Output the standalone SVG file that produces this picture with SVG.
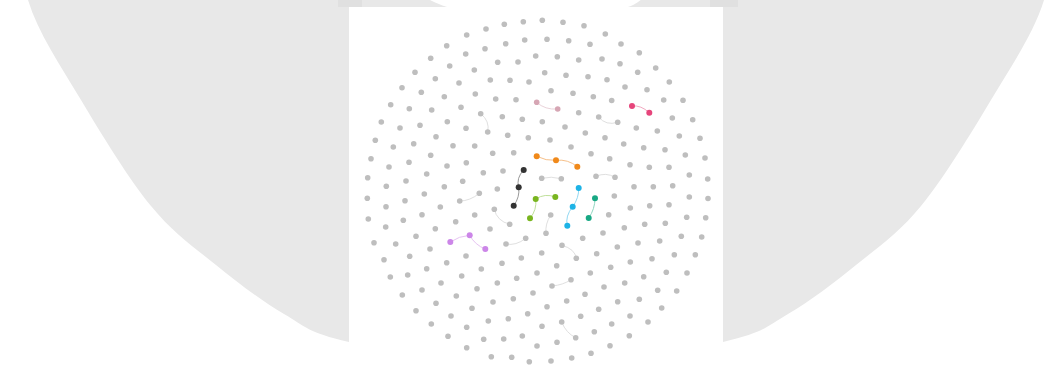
<svg xmlns="http://www.w3.org/2000/svg" width="1060" height="367" viewBox="0 0 1060 367">
<style>
.bgshape{fill:#e8e8e8}
.panel{fill:#ffffff}
.nodes circle{fill:#bebebe}
.nodes .o{fill:#f0891a}.nodes .k{fill:#333333}.nodes .g{fill:#79b51f}.nodes .c{fill:#1db3e6}.nodes .t{fill:#18a884}.nodes .p{fill:#e6457b}.nodes .lp{fill:#d6a6b4}.nodes .v{fill:#cc86e8}
.edges path{fill:none;stroke-width:1}
.e{stroke:#e0e0e0}
.eo{stroke:#f6c08a}.ek{stroke:#9a9a9a}.eg{stroke:#bfe09a}.ec{stroke:#92d8f2}.et{stroke:#8fd6c0}.ep{stroke:#f2a8c0}.elp{stroke:#ead3da}.ev{stroke:#e6c3f2}
</style>
<path class="bgshape" d="M26,-5 L28,0 C38.2,33.3 60.5,65.7 81,100 C101.5,134.3 128.5,178.5 151,206 C173.5,233.5 193.8,247 216,265 C238.2,283 261.8,301.2 284,314 C306.2,326.8 307,332.3 349,342 C391,351.7 473.7,372 536,372 C598.3,372 681,351.7 723,342 C765,332.3 765.8,326.8 788,314 C810.2,301.2 833.8,283 856,265 C878.2,247 898.5,233.5 921,206 C943.5,178.5 970.5,134.3 991,100 C1011.5,65.7 1033.8,33.3 1044,0 L1046,-5 Z"/>
<rect x="338" y="0" width="24" height="7" fill="#e0e0e0"/>
<rect x="710" y="0" width="28" height="7" fill="#e0e0e0"/>
<path fill="#ffffff" d="M428,-1 L642,-1 C637,3 632,6 628,7 L447,7 C440,5 434,2 428,-1 Z"/>
<rect class="panel" x="349" y="7" width="374" height="360"/>
<g id="connectors" class="edges">
<path class="e" d="M480.7,113.7 Q490,121 487.7,132"/>
<path class="e" d="M598.7,117 Q606,126 617.7,122.3"/>
<path class="e" d="M541.7,178.3 Q551,176 561.3,178.7"/>
<path class="e" d="M596,176.3 Q606,172 615,177.3"/>
<path class="e" d="M459.7,201 Q470,201 479.3,193.3"/>
<path class="e" d="M494.3,209.3 Q497,221 509.7,224.3"/>
<path class="e" d="M506,244 Q516,246 525.7,238.3"/>
<path class="e" d="M562,245.3 Q575,249 576.3,258.3"/>
<path class="e" d="M552,286 Q563,285 571,279.7"/>
<path class="e" d="M561.7,322 Q566,333 575.7,337.7"/>
<path class="e" d="M550.7,215 Q545,224 546,233.3"/>
<path class="eo" d="M536.7,156.3 Q546,161 556,160.3"/>
<path class="eo" d="M556,160.3 Q568,159 577.3,166.7"/>
<path class="ek" d="M523.7,170 Q516,178 518.7,187.3"/>
<path class="ek" d="M518.7,187.3 Q520,197 513.7,205.7"/>
<path class="eg" d="M535.7,199 Q545,193 555.3,197"/>
<path class="eg" d="M535.7,199 Q537,210 530,218.3"/>
<path class="ec" d="M578.7,188 Q579,198 572.7,206.7"/>
<path class="ec" d="M572.7,206.7 Q565,216 567.3,225.7"/>
<path class="et" d="M595,198.3 Q595,209 588.7,218"/>
<path class="ep" d="M632,106 Q641,105 649.3,112.7"/>
<path class="elp" d="M536.7,102.3 Q545,110 557.7,109"/>
<path class="ev" d="M450.3,242 Q459,236 469.7,235.3"/>
<path class="ev" d="M469.7,235.3 Q475,245 485.3,249"/>
</g>
<g class="nodes">
<g id="n1"><circle cx="523.3" cy="21.7" r="2.8"/></g>
<g id="n2"><circle cx="504.3" cy="24.3" r="2.8"/></g>
<g id="n3"><circle cx="486" cy="29" r="2.8"/></g>
<g id="n4"><circle cx="466.7" cy="35" r="2.8"/></g>
<g id="n5"><circle cx="524.7" cy="40" r="2.8"/></g>
<g id="n6"><circle cx="505.7" cy="43.7" r="2.8"/></g>
<g id="n7"><circle cx="485" cy="48.7" r="2.8"/></g>
<g id="n8"><circle cx="446.7" cy="45.7" r="2.8"/></g>
<g id="n9"><circle cx="465.7" cy="54" r="2.8"/></g>
<g id="n10"><circle cx="535.7" cy="56" r="2.8"/></g>
<g id="n11"><circle cx="430.7" cy="58.3" r="2.8"/></g>
<g id="n12"><circle cx="497.7" cy="62.3" r="2.8"/></g>
<g id="n13"><circle cx="518" cy="62" r="2.8"/></g>
<g id="n14"><circle cx="449.7" cy="66" r="2.8"/></g>
<g id="n15"><circle cx="474.3" cy="70" r="2.8"/></g>
<g id="n16"><circle cx="415" cy="72.3" r="2.8"/></g>
<g id="n17"><circle cx="435.3" cy="78.7" r="2.8"/></g>
<g id="n18"><circle cx="490.3" cy="80" r="2.8"/></g>
<g id="n19"><circle cx="510" cy="80.3" r="2.8"/></g>
<g id="n20"><circle cx="529" cy="82" r="2.8"/></g>
<g id="n21"><circle cx="459" cy="83" r="2.8"/></g>
<g id="n22"><circle cx="402" cy="87.7" r="2.8"/></g>
<g id="n23"><circle cx="421.3" cy="92.3" r="2.8"/></g>
<g id="n24"><circle cx="444.3" cy="96.7" r="2.8"/></g>
<g id="n25"><circle cx="475.3" cy="94" r="2.8"/></g>
<g id="n26"><circle cx="495.7" cy="99" r="2.8"/></g>
<g id="n27"><circle cx="516" cy="99.7" r="2.8"/></g>
<g id="n28"><circle cx="390.7" cy="104.7" r="2.8"/></g>
<g id="n29"><circle cx="409.3" cy="108.7" r="2.8"/></g>
<g id="n30"><circle cx="431.7" cy="110" r="2.8"/></g>
<g id="n31"><circle cx="461" cy="107.3" r="2.8"/></g>
<g id="n32"><circle cx="480.7" cy="113.7" r="2.8"/></g>
<g id="n33"><circle cx="502.3" cy="116.7" r="2.8"/></g>
<g id="n34"><circle cx="522.3" cy="119.3" r="2.8"/></g>
<g id="n35"><circle cx="381.3" cy="122" r="2.8"/></g>
<g id="n36"><circle cx="400" cy="128" r="2.8"/></g>
<g id="n37"><circle cx="420" cy="125.3" r="2.8"/></g>
<g id="n38"><circle cx="447.3" cy="121.7" r="2.8"/></g>
<g id="n39"><circle cx="466" cy="128.3" r="2.8"/></g>
<g id="n40"><circle cx="487.7" cy="132" r="2.8"/></g>
<g id="n41"><circle cx="507.7" cy="135.3" r="2.8"/></g>
<g id="n42"><circle cx="528.3" cy="137.7" r="2.8"/></g>
<g id="n43"><circle cx="375.3" cy="140.3" r="2.8"/></g>
<g id="n44"><circle cx="393.3" cy="147" r="2.8"/></g>
<g id="n45"><circle cx="413.7" cy="143.7" r="2.8"/></g>
<g id="n46"><circle cx="436" cy="136.7" r="2.8"/></g>
<g id="n47"><circle cx="453" cy="145.7" r="2.8"/></g>
<g id="n48"><circle cx="474.7" cy="146" r="2.8"/></g>
<g id="n49"><circle cx="492.7" cy="153.3" r="2.8"/></g>
<g id="n50"><circle cx="513.7" cy="152.7" r="2.8"/></g>
<g id="n51"><circle cx="371" cy="158.7" r="2.8"/></g>
<g id="n52"><circle cx="389" cy="167" r="2.8"/></g>
<g id="n53"><circle cx="409" cy="162.3" r="2.8"/></g>
<g id="n54"><circle cx="430.7" cy="155.3" r="2.8"/></g>
<g id="n55"><circle cx="447" cy="166" r="2.8"/></g>
<g id="n56"><circle cx="466.3" cy="162.7" r="2.8"/></g>
<g id="n57"><circle cx="483.3" cy="172.7" r="2.8"/></g>
<g id="n58"><circle cx="503" cy="171" r="2.8"/></g>
<g id="n59"><circle cx="367.7" cy="177.7" r="2.8"/></g>
<g id="n60"><circle cx="386.3" cy="186.3" r="2.8"/></g>
<g id="n61"><circle cx="406" cy="181" r="2.8"/></g>
<g id="n62"><circle cx="426.7" cy="174" r="2.8"/></g>
<g id="n63"><circle cx="444.3" cy="186.7" r="2.8"/></g>
<g id="n64"><circle cx="462.7" cy="181.3" r="2.8"/></g>
<g id="n65"><circle cx="497.3" cy="189" r="2.8"/></g>
<g id="n66"><circle cx="542.3" cy="20.3" r="2.8"/></g>
<g id="n67"><circle cx="563" cy="22.3" r="2.8"/></g>
<g id="n68"><circle cx="584" cy="25.7" r="2.8"/></g>
<g id="n69"><circle cx="605.3" cy="34" r="2.8"/></g>
<g id="n70"><circle cx="547" cy="39.3" r="2.8"/></g>
<g id="n71"><circle cx="568.7" cy="40.7" r="2.8"/></g>
<g id="n72"><circle cx="590" cy="44.3" r="2.8"/></g>
<g id="n73"><circle cx="621" cy="44" r="2.8"/></g>
<g id="n74"><circle cx="557.3" cy="56.7" r="2.8"/></g>
<g id="n75"><circle cx="578.7" cy="60" r="2.8"/></g>
<g id="n76"><circle cx="602" cy="59" r="2.8"/></g>
<g id="n77"><circle cx="620" cy="63.7" r="2.8"/></g>
<g id="n78"><circle cx="639.3" cy="52.7" r="2.8"/></g>
<g id="n79"><circle cx="655.7" cy="68" r="2.8"/></g>
<g id="n80"><circle cx="544.7" cy="72.7" r="2.8"/></g>
<g id="n81"><circle cx="566" cy="75.3" r="2.8"/></g>
<g id="n82"><circle cx="588" cy="76.7" r="2.8"/></g>
<g id="n83"><circle cx="607" cy="79.7" r="2.8"/></g>
<g id="n84"><circle cx="637.7" cy="72.3" r="2.8"/></g>
<g id="n85"><circle cx="669.3" cy="82" r="2.8"/></g>
<g id="n86"><circle cx="551" cy="90.7" r="2.8"/></g>
<g id="n87"><circle cx="573" cy="93.3" r="2.8"/></g>
<g id="n88"><circle cx="593.3" cy="96.7" r="2.8"/></g>
<g id="n89"><circle cx="611.7" cy="100.5" r="2.8"/></g>
<g id="n90"><circle cx="625" cy="87" r="2.8"/></g>
<g id="n91"><circle cx="647" cy="89.7" r="2.8"/></g>
<g id="n92"><circle cx="663.7" cy="100" r="2.8"/></g>
<g id="n93"><circle cx="683" cy="100.3" r="2.8"/></g>
<g id="n94"><circle cx="578.7" cy="112.7" r="2.8"/></g>
<g id="n95"><circle cx="598.7" cy="117" r="2.8"/></g>
<g id="n96"><circle cx="617.7" cy="122.3" r="2.8"/></g>
<g id="n97"><circle cx="672.3" cy="118" r="2.8"/></g>
<g id="n98"><circle cx="692.7" cy="119.7" r="2.8"/></g>
<g id="n99"><circle cx="542.3" cy="121.7" r="2.8"/></g>
<g id="n100"><circle cx="565" cy="127" r="2.8"/></g>
<g id="n101"><circle cx="585.3" cy="133" r="2.8"/></g>
<g id="n102"><circle cx="605" cy="137.7" r="2.8"/></g>
<g id="n103"><circle cx="636.3" cy="128" r="2.8"/></g>
<g id="n104"><circle cx="657.3" cy="131" r="2.8"/></g>
<g id="n105"><circle cx="679.3" cy="136" r="2.8"/></g>
<g id="n106"><circle cx="700" cy="138.3" r="2.8"/></g>
<g id="n107"><circle cx="550" cy="140" r="2.8"/></g>
<g id="n108"><circle cx="571" cy="147" r="2.8"/></g>
<g id="n109"><circle cx="591" cy="153.7" r="2.8"/></g>
<g id="n110"><circle cx="623.7" cy="144" r="2.8"/></g>
<g id="n111"><circle cx="643.7" cy="147.7" r="2.8"/></g>
<g id="n112"><circle cx="665" cy="149.7" r="2.8"/></g>
<g id="n113"><circle cx="685.3" cy="155" r="2.8"/></g>
<g id="n114"><circle cx="705" cy="158" r="2.8"/></g>
<g id="n115"><circle cx="609.7" cy="158.7" r="2.8"/></g>
<g id="n116"><circle cx="630" cy="164.7" r="2.8"/></g>
<g id="n117"><circle cx="649.3" cy="167.3" r="2.8"/></g>
<g id="n118"><circle cx="669" cy="167.3" r="2.8"/></g>
<g id="n119"><circle cx="689.3" cy="175" r="2.8"/></g>
<g id="n120"><circle cx="707.7" cy="179" r="2.8"/></g>
<g id="n121"><circle cx="541.7" cy="178.3" r="2.8"/></g>
<g id="n122"><circle cx="561.3" cy="178.7" r="2.8"/></g>
<g id="n123"><circle cx="596" cy="176.3" r="2.8"/></g>
<g id="n124"><circle cx="615" cy="177.3" r="2.8"/></g>
<g id="n125"><circle cx="634" cy="186.7" r="2.8"/></g>
<g id="n126"><circle cx="653.3" cy="186.7" r="2.8"/></g>
<g id="n127"><circle cx="672.7" cy="185.7" r="2.8"/></g>
<g id="n128"><circle cx="424.3" cy="194" r="2.8"/></g>
<g id="n129"><circle cx="405" cy="200.7" r="2.8"/></g>
<g id="n130"><circle cx="367.3" cy="198.3" r="2.8"/></g>
<g id="n131"><circle cx="386" cy="206.7" r="2.8"/></g>
<g id="n132"><circle cx="440.3" cy="207" r="2.8"/></g>
<g id="n133"><circle cx="459.7" cy="201" r="2.8"/></g>
<g id="n134"><circle cx="479.3" cy="193.3" r="2.8"/></g>
<g id="n135"><circle cx="494.3" cy="209.3" r="2.8"/></g>
<g id="n136"><circle cx="474.7" cy="215" r="2.8"/></g>
<g id="n137"><circle cx="455.7" cy="221.7" r="2.8"/></g>
<g id="n138"><circle cx="422" cy="214.7" r="2.8"/></g>
<g id="n139"><circle cx="403.3" cy="220.3" r="2.8"/></g>
<g id="n140"><circle cx="368.3" cy="219" r="2.8"/></g>
<g id="n141"><circle cx="385.7" cy="227" r="2.8"/></g>
<g id="n142"><circle cx="416" cy="236.3" r="2.8"/></g>
<g id="n143"><circle cx="435.3" cy="228.7" r="2.8"/></g>
<g id="n144"><circle cx="490" cy="229" r="2.8"/></g>
<g id="n145"><circle cx="509.7" cy="224.3" r="2.8"/></g>
<g id="n146"><circle cx="525.7" cy="238.3" r="2.8"/></g>
<g id="n147"><circle cx="506" cy="244" r="2.8"/></g>
<g id="n148"><circle cx="374" cy="242.7" r="2.8"/></g>
<g id="n149"><circle cx="395.7" cy="244" r="2.8"/></g>
<g id="n150"><circle cx="430" cy="249" r="2.8"/></g>
<g id="n151"><circle cx="409.7" cy="256.3" r="2.8"/></g>
<g id="n152"><circle cx="384" cy="259.7" r="2.8"/></g>
<g id="n153"><circle cx="466" cy="256" r="2.8"/></g>
<g id="n154"><circle cx="446.7" cy="262.7" r="2.8"/></g>
<g id="n155"><circle cx="426.7" cy="268.7" r="2.8"/></g>
<g id="n156"><circle cx="390.3" cy="277" r="2.8"/></g>
<g id="n157"><circle cx="407.7" cy="275" r="2.8"/></g>
<g id="n158"><circle cx="461.7" cy="276" r="2.8"/></g>
<g id="n159"><circle cx="481.3" cy="269" r="2.8"/></g>
<g id="n160"><circle cx="502" cy="263.3" r="2.8"/></g>
<g id="n161"><circle cx="521.3" cy="258" r="2.8"/></g>
<g id="n162"><circle cx="537" cy="273" r="2.8"/></g>
<g id="n163"><circle cx="516.7" cy="278.3" r="2.8"/></g>
<g id="n164"><circle cx="497.3" cy="283" r="2.8"/></g>
<g id="n165"><circle cx="477" cy="288.7" r="2.8"/></g>
<g id="n166"><circle cx="441" cy="283" r="2.8"/></g>
<g id="n167"><circle cx="422" cy="290" r="2.8"/></g>
<g id="n168"><circle cx="402.3" cy="295" r="2.8"/></g>
<g id="n169"><circle cx="456.3" cy="296" r="2.8"/></g>
<g id="n170"><circle cx="436" cy="303.3" r="2.8"/></g>
<g id="n171"><circle cx="416" cy="310.7" r="2.8"/></g>
<g id="n172"><circle cx="493" cy="302" r="2.8"/></g>
<g id="n173"><circle cx="513.3" cy="298.7" r="2.8"/></g>
<g id="n174"><circle cx="533" cy="293" r="2.8"/></g>
<g id="n175"><circle cx="527.7" cy="313.7" r="2.8"/></g>
<g id="n176"><circle cx="508.3" cy="318.7" r="2.8"/></g>
<g id="n177"><circle cx="488.3" cy="321" r="2.8"/></g>
<g id="n178"><circle cx="472" cy="308.3" r="2.8"/></g>
<g id="n179"><circle cx="451" cy="316" r="2.8"/></g>
<g id="n180"><circle cx="431.3" cy="324" r="2.8"/></g>
<g id="n181"><circle cx="466.7" cy="327.3" r="2.8"/></g>
<g id="n182"><circle cx="448" cy="336.3" r="2.8"/></g>
<g id="n183"><circle cx="483.7" cy="339.3" r="2.8"/></g>
<g id="n184"><circle cx="503.7" cy="339" r="2.8"/></g>
<g id="n185"><circle cx="522.3" cy="336" r="2.8"/></g>
<g id="n186"><circle cx="537" cy="346" r="2.8"/></g>
<g id="n187"><circle cx="511.7" cy="357.3" r="2.8"/></g>
<g id="n188"><circle cx="491.3" cy="356.7" r="2.8"/></g>
<g id="n189"><circle cx="466.7" cy="347.7" r="2.8"/></g>
<g id="n190"><circle cx="529.3" cy="361.7" r="2.8"/></g>
<g id="n191"><circle cx="614.3" cy="196" r="2.8"/></g>
<g id="n192"><circle cx="630.3" cy="208" r="2.8"/></g>
<g id="n193"><circle cx="649.7" cy="205.7" r="2.8"/></g>
<g id="n194"><circle cx="669" cy="204.7" r="2.8"/></g>
<g id="n195"><circle cx="689.3" cy="197" r="2.8"/></g>
<g id="n196"><circle cx="708" cy="198.5" r="2.8"/></g>
<g id="n197"><circle cx="608.7" cy="214.7" r="2.8"/></g>
<g id="n198"><circle cx="603" cy="233" r="2.8"/></g>
<g id="n199"><circle cx="624.3" cy="227.7" r="2.8"/></g>
<g id="n200"><circle cx="644.7" cy="224.3" r="2.8"/></g>
<g id="n201"><circle cx="665.3" cy="223.3" r="2.8"/></g>
<g id="n202"><circle cx="686.7" cy="217.3" r="2.8"/></g>
<g id="n203"><circle cx="705.7" cy="217.7" r="2.8"/></g>
<g id="n204"><circle cx="550.7" cy="215" r="2.8"/></g>
<g id="n205"><circle cx="546" cy="233.3" r="2.8"/></g>
<g id="n206"><circle cx="582.7" cy="238.3" r="2.8"/></g>
<g id="n207"><circle cx="617.3" cy="247" r="2.8"/></g>
<g id="n208"><circle cx="638" cy="243" r="2.8"/></g>
<g id="n209"><circle cx="659.7" cy="241" r="2.8"/></g>
<g id="n210"><circle cx="681.3" cy="236.3" r="2.8"/></g>
<g id="n211"><circle cx="701.7" cy="237" r="2.8"/></g>
<g id="n212"><circle cx="562" cy="245.3" r="2.8"/></g>
<g id="n213"><circle cx="576.3" cy="258.3" r="2.8"/></g>
<g id="n214"><circle cx="596.7" cy="253.7" r="2.8"/></g>
<g id="n215"><circle cx="541.7" cy="253" r="2.8"/></g>
<g id="n216"><circle cx="556.7" cy="265.7" r="2.8"/></g>
<g id="n217"><circle cx="610.7" cy="267.3" r="2.8"/></g>
<g id="n218"><circle cx="630.3" cy="262" r="2.8"/></g>
<g id="n219"><circle cx="652" cy="258.7" r="2.8"/></g>
<g id="n220"><circle cx="674.3" cy="254.7" r="2.8"/></g>
<g id="n221"><circle cx="695.3" cy="254.7" r="2.8"/></g>
<g id="n222"><circle cx="590.3" cy="273" r="2.8"/></g>
<g id="n223"><circle cx="624.7" cy="283" r="2.8"/></g>
<g id="n224"><circle cx="643.7" cy="276.7" r="2.8"/></g>
<g id="n225"><circle cx="666.3" cy="272.3" r="2.8"/></g>
<g id="n226"><circle cx="687" cy="273" r="2.8"/></g>
<g id="n227"><circle cx="571" cy="279.7" r="2.8"/></g>
<g id="n228"><circle cx="552" cy="286" r="2.8"/></g>
<g id="n229"><circle cx="604" cy="287" r="2.8"/></g>
<g id="n230"><circle cx="585" cy="294.3" r="2.8"/></g>
<g id="n231"><circle cx="547" cy="306.7" r="2.8"/></g>
<g id="n232"><circle cx="566.7" cy="301" r="2.8"/></g>
<g id="n233"><circle cx="617.7" cy="301.7" r="2.8"/></g>
<g id="n234"><circle cx="639.3" cy="299.3" r="2.8"/></g>
<g id="n235"><circle cx="657.7" cy="290.3" r="2.8"/></g>
<g id="n236"><circle cx="676.7" cy="291" r="2.8"/></g>
<g id="n237"><circle cx="661.7" cy="308" r="2.8"/></g>
<g id="n238"><circle cx="598.7" cy="309.3" r="2.8"/></g>
<g id="n239"><circle cx="580.7" cy="316.3" r="2.8"/></g>
<g id="n240"><circle cx="630" cy="316" r="2.8"/></g>
<g id="n241"><circle cx="561.7" cy="322" r="2.8"/></g>
<g id="n242"><circle cx="542" cy="326.3" r="2.8"/></g>
<g id="n243"><circle cx="611.7" cy="324" r="2.8"/></g>
<g id="n244"><circle cx="648" cy="322" r="2.8"/></g>
<g id="n245"><circle cx="594.3" cy="331.7" r="2.8"/></g>
<g id="n246"><circle cx="575.7" cy="337.7" r="2.8"/></g>
<g id="n247"><circle cx="629.3" cy="335.7" r="2.8"/></g>
<g id="n248"><circle cx="557" cy="342.3" r="2.8"/></g>
<g id="n249"><circle cx="610" cy="345.7" r="2.8"/></g>
<g id="n250"><circle cx="591" cy="353.3" r="2.8"/></g>
<g id="n251"><circle cx="571.7" cy="358" r="2.8"/></g>
<g id="n252"><circle cx="551" cy="361" r="2.8"/></g>
<g id="n253"><circle class="o" cx="536.7" cy="156.3" r="3"/></g>
<g id="n254"><circle class="o" cx="556" cy="160.3" r="3"/></g>
<g id="n255"><circle class="o" cx="577.3" cy="166.7" r="3"/></g>
<g id="n256"><circle class="k" cx="523.7" cy="170" r="3"/></g>
<g id="n257"><circle class="k" cx="518.7" cy="187.3" r="3"/></g>
<g id="n258"><circle class="k" cx="513.7" cy="205.7" r="3"/></g>
<g id="n259"><circle class="g" cx="535.7" cy="199" r="3"/></g>
<g id="n260"><circle class="g" cx="555.3" cy="197" r="3"/></g>
<g id="n261"><circle class="g" cx="530" cy="218.3" r="3"/></g>
<g id="n262"><circle class="c" cx="578.7" cy="188" r="3"/></g>
<g id="n263"><circle class="c" cx="572.7" cy="206.7" r="3"/></g>
<g id="n264"><circle class="c" cx="567.3" cy="225.7" r="3"/></g>
<g id="n265"><circle class="t" cx="595" cy="198.3" r="3"/></g>
<g id="n266"><circle class="t" cx="588.7" cy="218" r="3"/></g>
<g id="n267"><circle class="p" cx="632" cy="106" r="3"/></g>
<g id="n268"><circle class="p" cx="649.3" cy="112.7" r="3"/></g>
<g id="n269"><circle class="lp" cx="536.7" cy="102.3" r="2.8"/></g>
<g id="n270"><circle class="lp" cx="557.7" cy="109" r="2.8"/></g>
<g id="n271"><circle class="v" cx="450.3" cy="242" r="3"/></g>
<g id="n272"><circle class="v" cx="469.7" cy="235.3" r="3"/></g>
<g id="n273"><circle class="v" cx="485.3" cy="249" r="3"/></g>
</g>
</svg>
